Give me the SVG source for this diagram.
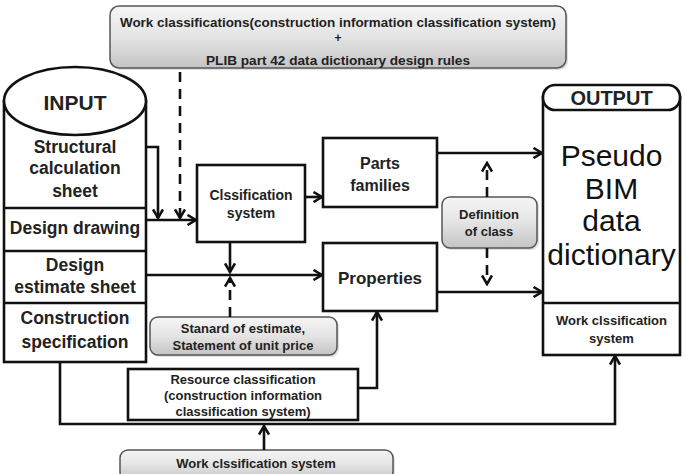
<svg xmlns="http://www.w3.org/2000/svg" width="686" height="474" viewBox="0 0 686 474">
<defs>
<linearGradient id="gray" x1="0" y1="0" x2="0" y2="1">
<stop offset="0" stop-color="#f5f5f5"/>
<stop offset="0.5" stop-color="#e4e4e4"/>
<stop offset="1" stop-color="#c4c4c4"/>
</linearGradient>
<marker id="arr" viewBox="0 0 12 12" refX="10" refY="6" markerWidth="12" markerHeight="12" markerUnits="userSpaceOnUse" orient="auto">
<path d="M1.5,1 L10,6 L1.5,11" fill="none" stroke="#111" stroke-width="2.6" stroke-dasharray="none" stroke-linejoin="miter"/>
</marker>
</defs>
<style>
text{font-family:"Liberation Sans",Arial,sans-serif;font-weight:bold;fill:#222;text-anchor:middle}
.box{fill:#fff;stroke:#111;stroke-width:2.6}
.gbox{fill:url(#gray);stroke:#555;stroke-width:1.5}
.shadow{fill:#999;opacity:0.3}
.ln{fill:none;stroke:#111;stroke-width:2.6}
.dash{fill:none;stroke:#111;stroke-width:2.6;stroke-dasharray:10 7}
.t12{font-size:12px}
.t13{font-size:13px}
.t14{font-size:14px}
.t17{font-size:17.5px}
.big{font-size:30px;font-weight:normal;fill:#111}
</style>

<g id="top-rules">
<rect class="shadow" x="112" y="8" width="456" height="62" rx="9"/>
<rect class="gbox" x="110" y="6" width="456" height="62" rx="9"/>
<text class="t12" x="338" y="27" textLength="436" lengthAdjust="spacingAndGlyphs">Work classifications(construction information classification system)</text>
<text class="t12" x="338" y="42">+</text>
<text class="t12" x="338" y="65" textLength="264" lengthAdjust="spacingAndGlyphs">PLIB part 42 data dictionary design rules</text>
</g>

<g id="input">
<rect class="box" x="4" y="101" width="142" height="261"/>
<ellipse class="box" cx="75" cy="101" rx="71" ry="34"/>
<text x="75" y="110" style="font-size:21px">INPUT</text>
<line class="ln" x1="4" y1="208" x2="146" y2="208"/>
<line class="ln" x1="4" y1="251" x2="146" y2="251"/>
<line class="ln" x1="4" y1="303" x2="146" y2="303"/>
<text class="t17" x="75" y="153">Structural</text>
<text class="t17" x="75" y="174">calculation</text>
<text class="t17" x="75" y="197">sheet</text>
<text class="t17" x="75" y="234">Design drawing</text>
<text class="t17" x="75" y="271">Design</text>
<text class="t17" x="75" y="293">estimate sheet</text>
<text class="t17" x="75" y="324">Construction</text>
<text class="t17" x="75" y="348">specification</text>
</g>

<g id="classification-system">
<rect class="box" x="197" y="165" width="108" height="77"/>
<text class="t14" x="251" y="200">Clssification</text>
<text class="t14" x="251" y="218">system</text>
</g>

<g id="parts-families">
<rect class="box" x="323" y="138" width="114" height="69"/>
<text x="380" y="169" style="font-size:16px">Parts</text>
<text x="380" y="191" style="font-size:16px">families</text>
</g>

<g id="properties">
<rect class="box" x="323" y="243" width="114" height="68"/>
<text x="380" y="284" style="font-size:17px">Properties</text>
</g>

<g id="definition-of-class">
<rect class="shadow" x="444" y="199" width="95" height="51" rx="8"/>
<rect class="gbox" x="442" y="197" width="95" height="51" rx="8"/>
<text class="t13" x="489" y="219">Definition</text>
<text class="t13" x="489" y="236">of class</text>
</g>

<g id="output">
<rect class="box" x="543" y="97" width="137" height="258"/>
<rect class="box" x="543" y="85" width="137" height="25" rx="12"/>
<text x="611.5" y="105" style="font-size:20px">OUTPUT</text>
<text class="big" x="611.5" y="166">Pseudo</text>
<text class="big" x="611.5" y="199">BIM</text>
<text class="big" x="611.5" y="231">data</text>
<text class="big" x="611.5" y="265">dictionary</text>
<line class="ln" x1="543" y1="303" x2="680" y2="303"/>
<text class="t13" x="611.5" y="325">Work clssification</text>
<text class="t13" x="611.5" y="343">system</text>
</g>

<g id="standard-of-estimate">
<rect class="shadow" x="152" y="319" width="187" height="38" rx="8"/>
<rect class="gbox" x="150" y="317" width="187" height="38" rx="8"/>
<text class="t13" x="243" y="333">Stanard of estimate,</text>
<text class="t13" x="243" y="350">Statement of unit price</text>
</g>

<g id="resource-classification">
<rect class="box" x="128" y="369" width="230" height="51"/>
<text class="t13" x="243" y="384">Resource classification</text>
<text class="t13" x="243" y="400">(construction information</text>
<text class="t13" x="243" y="416">classification system)</text>
</g>

<g id="work-classification-system">
<rect class="shadow" x="122" y="452" width="273" height="30" rx="8"/>
<rect class="gbox" x="120" y="450" width="273" height="30" rx="8"/>
<text class="t13" x="256" y="468">Work clssification system</text>
</g>

<g id="connectors">
<path class="dash" d="M180,72 L180,218" marker-end="url(#arr)"/>
<path class="ln" d="M146,147 L158,147 L158,218" marker-end="url(#arr)"/>
<path class="ln" d="M146,220 L196,220" marker-end="url(#arr)"/>
<path class="ln" d="M305,197 L322,197" marker-end="url(#arr)"/>
<path class="ln" d="M230,242 L230,272" marker-end="url(#arr)"/>
<path class="dash" d="M230,317 L230,278" marker-end="url(#arr)"/>
<path class="ln" d="M146,275 L322,275" marker-end="url(#arr)"/>
<path class="ln" d="M437,153 L542,153" marker-end="url(#arr)"/>
<path class="ln" d="M437,292 L542,292" marker-end="url(#arr)"/>
<path class="dash" d="M487,197 L487,163" marker-end="url(#arr)"/>
<path class="dash" d="M487,248 L487,284" marker-end="url(#arr)"/>
<path class="ln" d="M358,388 L377,388 L377,312" marker-end="url(#arr)"/>
<path class="ln" d="M60,362 L60,424 L615,424 L615,356" marker-end="url(#arr)"/>
<path class="ln" d="M264,450 L264,426" marker-end="url(#arr)"/>
</g>
</svg>
